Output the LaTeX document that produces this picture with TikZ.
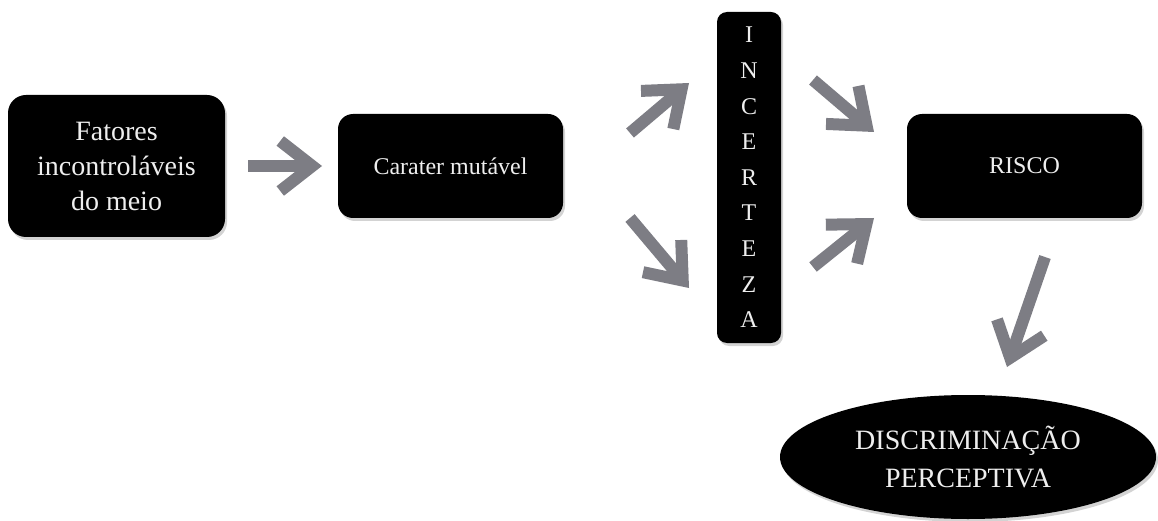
\documentclass[tikz,border=0pt]{standalone}
\usepackage{fontspec}
\setmainfont{Liberation Serif}
\usetikzlibrary{arrows.meta,shadows,shapes.geometric}
\definecolor{arrowgray}{RGB}{125,125,132}
\definecolor{textwhite}{RGB}{238,238,238}
\begin{document}
\begin{tikzpicture}[x=1pt,y=-1pt,
  blackbox/.style={fill=black, rounded corners=18pt, text=textwhite, align=center, inner sep=0pt,
    drop shadow={shadow xshift=2pt, shadow yshift=-3pt, opacity=0.35}},
  grayarrow/.style={draw=arrowgray, line width=12pt,
    -{Straight Barb[length=32pt, width=50pt, line width=12pt]}}]
\useasboundingbox (0,0) rectangle (1158,521);

\node[blackbox, minimum width=217pt, minimum height=142pt,
  font=\fontsize{28}{35}\selectfont] (fat) at (116.5,166) {Fatores\\incontroláveis\\do meio};
\node[blackbox, rounded corners=15pt, minimum width=225pt, minimum height=104pt,
  font=\fontsize{24}{29}\selectfont] (car) at (450.5,166) {Carater mutável};
\node[blackbox, rounded corners=10pt, minimum width=64pt, minimum height=331pt,
  font=\fontsize{24}{35.6}\selectfont] (inc) at (749,177.5) {I\\N\\C\\E\\R\\T\\E\\Z\\A};
\node[blackbox, rounded corners=15pt, minimum width=235pt, minimum height=104pt,
  font=\fontsize{24}{29}\selectfont] (ris) at (1024.5,166) {RISCO};
\node[ellipse, fill=black, text=textwhite, minimum width=376pt, minimum height=124pt,
  inner sep=0pt, align=center, font=\fontsize{28}{38}\selectfont,
  drop shadow={shadow xshift=2pt, shadow yshift=-3pt, opacity=0.35}] (dis) at (968,457)
  {DISCRIMINAÇÃO\\PERCEPTIVA};

\coordinate (a1s) at (248,166);  \coordinate (a1e) at (322,166);
\coordinate (a2s) at (630,133);  \coordinate (a2e) at (689,83);
\coordinate (a3s) at (630,218);  \coordinate (a3e) at (689,288);
\coordinate (a4s) at (813,80);   \coordinate (a4e) at (874,132);
\coordinate (a5s) at (813,267);  \coordinate (a5e) at (874,218);
\coordinate (a6s) at (1045,257); \coordinate (a6e) at (1007,367);

\draw[grayarrow] (a1s) -- (a1e);
\draw[grayarrow] (a2s) -- (a2e);
\draw[grayarrow] (a3s) -- (a3e);
\draw[grayarrow] (a4s) -- (a4e);
\draw[grayarrow] (a5s) -- (a5e);
\draw[grayarrow] (a6s) -- (a6e);
\end{tikzpicture}
\end{document}
